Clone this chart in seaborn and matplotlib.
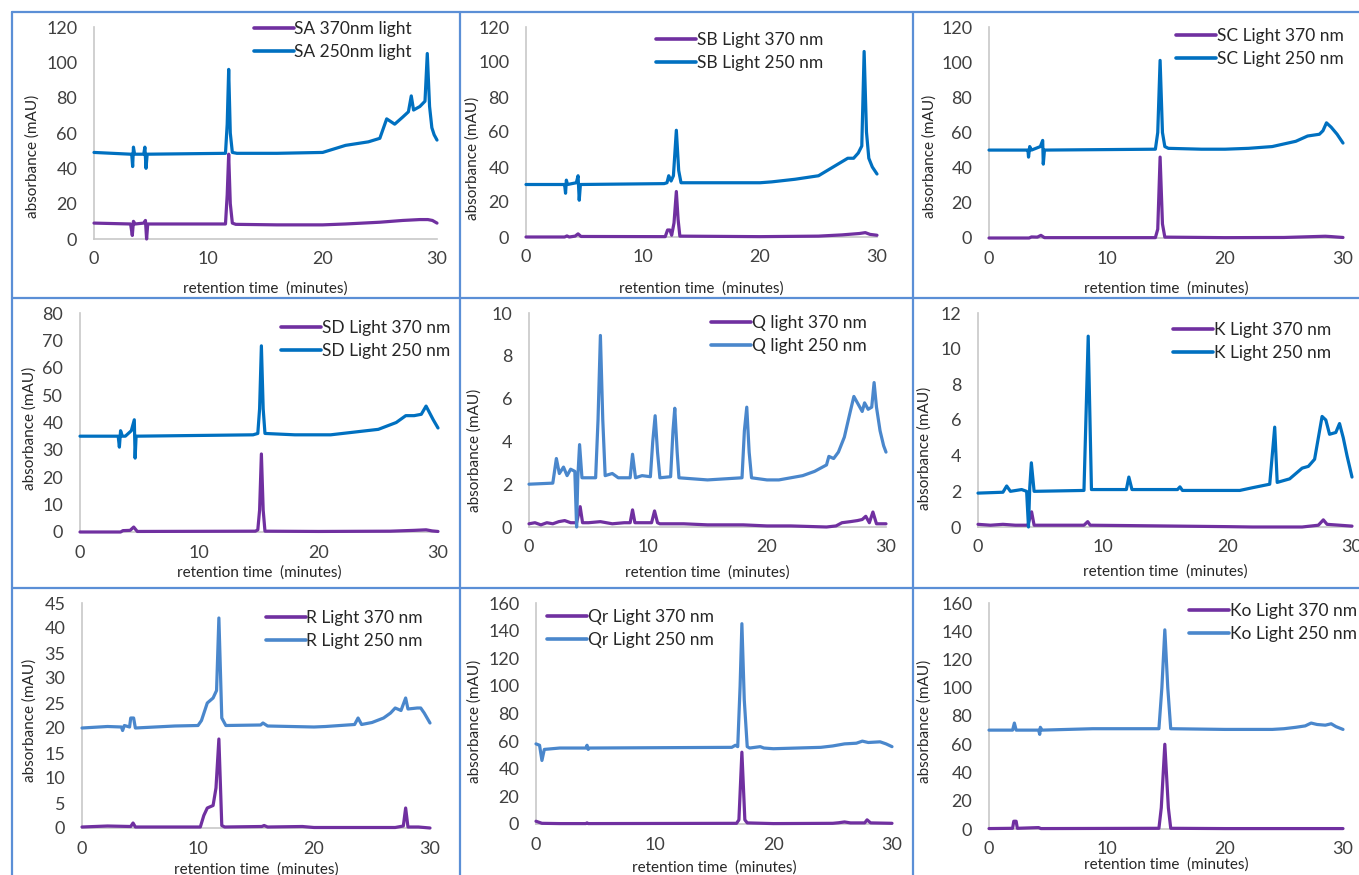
import matplotlib
matplotlib.use("Agg")
import matplotlib.pyplot as plt
from matplotlib.lines import Line2D
import pandas as pd
import seaborn as sns

# (retention time in minutes, absorbance in mAU)
SA_370 = [(0, 9), (3.2, 8.5), (3.35, 2), (3.45, 10), (3.6, 8.5), (4.35, 9), (4.5, 10.5), (4.6, 0), (4.7, 8.5),
          (11.5, 8.5), (11.65, 25), (11.78, 48), (11.92, 20), (12.1, 9), (12.4, 8.3), (16, 8), (20, 8),
          (22, 8.5), (25, 9.5), (27, 10.5), (28.5, 11), (29.2, 11), (29.6, 10.5), (30, 9)]
SA_250 = [(0, 49), (3.2, 48), (3.3, 48), (3.38, 41), (3.45, 52), (3.55, 48), (4.35, 48), (4.45, 52), (4.55, 40),
          (4.65, 48), (11.5, 48.5), (11.65, 65), (11.78, 96), (11.92, 60), (12.1, 49), (12.5, 48.5), (16, 48.5),
          (20, 49), (21, 51), (22, 53), (23, 54), (24, 55), (25, 57), (25.6, 68), (26.3, 65), (27, 69), (27.5, 72),
          (27.75, 81), (27.95, 73), (28.5, 75), (28.95, 78), (29.15, 105), (29.35, 75), (29.55, 63), (29.75, 59),
          (30, 56)]

SB_370 = [(0, 0), (3.3, 0), (3.5, 0.6), (3.7, 0), (4.2, 0.5), (4.45, 1.8), (4.7, 0.3), (11.9, 0.2), (12.1, 4),
          (12.3, 4), (12.45, 1), (12.65, 8), (12.85, 26), (13.0, 10), (13.15, 0.5), (20, 0.2), (25, 0.5),
          (27, 1.2), (28.5, 2), (29, 2.5), (29.4, 1.5), (30, 1)]
SB_250 = [(0, 30), (3.2, 30), (3.3, 30), (3.38, 25), (3.45, 32.5), (3.55, 30), (4.3, 31), (4.45, 35), (4.55, 21),
          (4.65, 30), (11.8, 30.5), (12.05, 31), (12.2, 35), (12.4, 32), (12.6, 35), (12.85, 61), (13.05, 38),
          (13.25, 31), (16, 31), (20, 31), (21, 31.5), (23, 33), (25, 35), (26, 39), (27, 43), (27.5, 45),
          (28, 45), (28.4, 48), (28.7, 52), (28.9, 106), (29.1, 60), (29.3, 45), (29.6, 40), (30, 36)]

SC_370 = [(0, 0), (3.4, 0), (3.6, 0.6), (4.1, 0.5), (4.4, 1.5), (4.7, 0.2), (14.1, 0.2), (14.3, 5), (14.5, 46),
          (14.7, 8), (14.9, 0.5), (20, 0.2), (25, 0.3), (28.5, 1), (29, 0.8), (30, 0.3)]
SC_250 = [(0, 50), (3.2, 50), (3.3, 50), (3.35, 46), (3.45, 52), (3.6, 50), (4.35, 52), (4.55, 55.5), (4.6, 42),
          (4.7, 50), (14.1, 50.5), (14.3, 60), (14.5, 101), (14.7, 60), (14.9, 52), (15.2, 51), (18, 50.5),
          (20, 50.5), (22, 51), (24, 52), (25, 53.5), (26, 55), (27, 58), (28, 59), (28.3, 61), (28.6, 65.5),
          (29, 63), (29.5, 59), (30, 54)]

SD_370 = [(0, 0), (3.4, 0), (3.6, 0.5), (4.2, 0.6), (4.5, 1.8), (4.8, 0.2), (14.7, 0.3), (14.9, 0.8),
          (15.05, 8), (15.2, 28.5), (15.35, 8), (15.5, 0.3), (20, 0.2), (26, 0.3), (28, 0.6), (29, 0.8),
          (29.5, 0.4), (30, 0.2)]
SD_250 = [(0, 35), (3.2, 35), (3.3, 31), (3.4, 37), (3.55, 35), (3.8, 35), (4.3, 37), (4.55, 41), (4.62, 27),
          (4.7, 35), (14.5, 35.5), (14.9, 36), (15.05, 45), (15.2, 68), (15.35, 45), (15.5, 36), (18, 35.5),
          (21, 35.5), (22, 36), (24, 37), (25, 37.5), (26.5, 40), (27.3, 42.5), (28, 42.5), (28.6, 43),
          (29, 46), (29.6, 41), (30, 38)]

Q_370 = [(0, 0.15), (0.5, 0.2), (1, 0.1), (1.5, 0.2), (2, 0.15), (2.5, 0.25), (3, 0.3), (3.5, 0.2), (4.0, 0.2),
         (4.3, 0.95), (4.5, 0.2), (5, 0.2), (6, 0.25), (7, 0.15), (8, 0.2), (8.5, 0.2), (8.7, 0.8), (8.9, 0.2),
         (9.5, 0.2), (10.3, 0.2), (10.55, 0.75), (10.8, 0.2), (11, 0.15), (13, 0.15), (15, 0.1), (18, 0.1),
         (20, 0.05), (22, 0.05), (25, 0.0), (25.8, 0.05), (26.3, 0.2), (27, 0.25), (27.6, 0.3), (28, 0.35),
         (28.3, 0.5), (28.6, 0.2), (28.9, 0.7), (29.2, 0.15), (30, 0.15)]
Q_250 = [(0, 2.0), (2.0, 2.05), (2.3, 3.2), (2.55, 2.5), (2.9, 2.8), (3.2, 2.4), (3.5, 2.7), (3.85, 2.6),
         (4.0, 0.0), (4.1, 2.3), (4.25, 3.85), (4.45, 2.3), (5.6, 2.3), (5.8, 5), (6.0, 8.95), (6.2, 5),
         (6.4, 2.4), (7.0, 2.5), (7.5, 2.3), (8.5, 2.3), (8.7, 3.4), (8.95, 2.3), (9.5, 2.4), (10.2, 2.35),
         (10.4, 4), (10.6, 5.2), (10.8, 3.5), (11.0, 2.3), (11.9, 2.35), (12.1, 4.5), (12.25, 5.55),
         (12.45, 3.5), (12.6, 2.3), (15, 2.2), (17.9, 2.3), (18.1, 4.5), (18.3, 5.6), (18.5, 3.5), (18.7, 2.3),
         (20, 2.2), (21, 2.2), (22, 2.3), (23, 2.4), (24, 2.6), (25, 2.9), (25.2, 3.3), (25.6, 3.2), (26, 3.5),
         (26.5, 4.2), (27, 5.4), (27.3, 6.1), (27.7, 5.7), (28.0, 5.4), (28.2, 5.8), (28.5, 5.5), (28.8, 5.6),
         (29.0, 6.75), (29.2, 5.6), (29.5, 4.5), (29.8, 3.8), (30, 3.5)]

K_370 = [(0, 0.15), (1, 0.1), (2, 0.15), (3, 0.1), (4.0, 0.1), (4.3, 0.85), (4.5, 0.1), (6, 0.1), (8.5, 0.1),
         (8.8, 0.3), (9.0, 0.1), (12, 0.08), (16, 0.05), (20, 0.02), (22, 0.0), (26, 0.0), (27.3, 0.1),
         (27.7, 0.4), (28, 0.15), (29, 0.1), (30, 0.05)]
K_250 = [(0, 1.9), (2.0, 1.95), (2.3, 2.3), (2.6, 2.0), (3.5, 2.1), (3.9, 2.0), (4.05, 0.0), (4.15, 2.2),
         (4.28, 3.6), (4.5, 2.0), (8.5, 2.05), (8.84, 10.7), (9.1, 2.1), (11.9, 2.1), (12.1, 2.8), (12.35, 2.1),
         (16, 2.1), (16.2, 2.25), (16.4, 2.05), (21, 2.05), (22, 2.2), (23.4, 2.4), (23.6, 4), (23.8, 5.6),
         (24.0, 2.5), (25, 2.7), (26, 3.3), (26.5, 3.4), (27, 3.8), (27.3, 5.0), (27.6, 6.2), (27.9, 6.0),
         (28.2, 5.2), (28.7, 5.3), (29.0, 5.8), (29.3, 5.0), (29.6, 4.0), (30, 2.8)]

R_370 = [(0, 0.2), (2.2, 0.4), (4.2, 0.3), (4.4, 1.0), (4.6, 0.2), (10.2, 0.2), (10.5, 2.5), (10.8, 4.0),
         (11.3, 4.5), (11.55, 8), (11.8, 17.8), (12.05, 0.5), (12.3, 0.2), (15.5, 0.3), (15.7, 0.5), (16, 0.2),
         (19, 0.3), (20, 0.1), (27, 0.1), (27.7, 0.4), (27.9, 4.0), (28.1, 0.2), (29, 0.2), (30, 0.0)]
R_250 = [(0, 20), (2.2, 20.3), (3.4, 20.2), (3.5, 19.5), (3.65, 20.5), (4.1, 20.2), (4.2, 22), (4.45, 22),
         (4.6, 20), (8, 20.4), (10, 20.5), (10.3, 21.5), (10.8, 25), (11.3, 26), (11.6, 27.5), (11.8, 42),
         (12.05, 22), (12.4, 20.5), (15.4, 20.6), (15.6, 21), (16, 20.4), (20, 20.2), (21, 20.3), (23.5, 20.7),
         (23.8, 22), (24.1, 20.7), (25, 21.1), (26, 22), (26.6, 23), (27, 24), (27.5, 23.5), (27.9, 26),
         (28.1, 23.8), (28.9, 24), (29.2, 24), (29.5, 23), (30, 21)]

Qr_370 = [(0, 2), (0.5, 0.5), (2, 0.3), (4.2, 0.3), (4.3, 0.8), (4.4, 0.3), (16.9, 0.5), (17.1, 3), (17.35, 52),
          (17.6, 3), (17.8, 0.8), (20, 0.3), (25, 0.5), (25.5, 0.9), (26, 1.5), (26.5, 0.8), (27.7, 0.8),
          (27.9, 3), (28.2, 0.8), (30, 0.5)]
Qr_250 = [(0, 58), (0.3, 57), (0.5, 46), (0.7, 54), (2, 55), (4.2, 55), (4.3, 57), (4.4, 54), (4.5, 55),
          (16.5, 55.5), (16.8, 57), (17.0, 56), (17.2, 100), (17.35, 145), (17.55, 90), (17.8, 56), (18, 55),
          (18.9, 56), (19.2, 55), (20, 54.5), (22, 55), (24, 55.5), (25, 56.5), (26, 58), (27, 58.5),
          (27.5, 60), (28, 59), (29, 59.5), (29.5, 58), (30, 56)]

Ko_370 = [(0, 0.3), (2.0, 0.5), (2.1, 5.5), (2.3, 5.5), (2.4, 0.5), (4.2, 1), (4.4, 0.3), (14.4, 0.5),
          (14.6, 15), (14.9, 60), (15.2, 15), (15.4, 0.5), (20, 0.3), (30, 0.3)]
Ko_250 = [(0, 70), (2.0, 70), (2.15, 75), (2.3, 70), (4.2, 70), (4.3, 67), (4.35, 72), (4.5, 70), (8.8, 71),
          (14.4, 71), (14.65, 100), (14.9, 141), (15.15, 100), (15.4, 71), (20, 70.5), (24, 70.5), (25, 71),
          (26, 72), (26.8, 73), (27.3, 75), (27.8, 74), (28.5, 73.5), (29, 74.5), (29.4, 72.5), (30, 70.5)]

LABELS = [
    ("SA 370nm light", "SA 250nm light"),
    ("SB Light 370 nm", "SB Light 250 nm"),
    ("SC Light 370 nm", "SC Light 250 nm"),
    ("SD Light 370 nm", "SD Light 250 nm"),
    ("Q light 370 nm", "Q light 250 nm"),
    ("K Light 370 nm", "K Light 250 nm"),
    ("R Light 370 nm", "R Light 250 nm"),
    ("Qr Light 370 nm", "Qr Light 250 nm"),
    ("Ko Light 370 nm", "Ko Light 250 nm"),
]
TRACES = [(SA_370, SA_250), (SB_370, SB_250), (SC_370, SC_250), (SD_370, SD_250), (Q_370, Q_250),
          (K_370, K_250), (R_370, R_250), (Qr_370, Qr_250), (Ko_370, Ko_250)]
Y_MAX = [120, 120, 120, 80, 10, 12, 45, 160, 160]
Y_STEP = [20, 20, 20, 10, 2, 2, 5, 20, 20]

PURPLE = "#7030a0"
BLUE = "#0070c0"
LIGHT_BLUE = "#4a87cc"
BLUE_250 = [BLUE, BLUE, BLUE, BLUE, LIGHT_BLUE, BLUE, LIGHT_BLUE, LIGHT_BLUE, LIGHT_BLUE]

# pixel layout: x of t=0, x of t=30, y of top tick, y of 0, xlabel offset, ylabel (dx, yc),
# legend (right x, top y)
LAYOUT = [
    (94, 437, 27, 239, 50, 61, 156, 412, 21),
    (526, 877, 27, 237, 52, 53, 158, 823, 32),
    (989, 1343, 27, 238, 51, 59, 156, 1344, 28),
    (80, 438, 313, 532, 41, 50, 428, 450, 320),
    (529, 886, 313, 527, 46, 54, 450, 867, 315),
    (978, 1352, 313, 527, 45, 53, 448, 1331, 322),
    (82, 430, 603, 828, 42, 52, 720, 423, 610),
    (536, 892, 603, 824, 44, 61, 721, 714, 609),
    (989, 1343, 603, 829, 36, 64, 721, 1357, 603),
]

W, H = 1359, 875

sns.set_theme(style="white")
plt.rcParams["font.family"] = ["Lato", "DejaVu Sans"]

fig = plt.figure(figsize=(W / 100, H / 100), dpi=100)
fig.patch.set_facecolor("white")

# panel frame lines
frame_color = "#5b8fd6"
for x in (12, 460, 913):
    fig.add_artist(Line2D([x / W, x / W], [0, 1 - 12 / H], color=frame_color, lw=1.6))
for y in (12, 298, 588):
    fig.add_artist(Line2D([12 / W, 1], [1 - y / H, 1 - y / H], color=frame_color, lw=1.6))

for i, (x0, x30, ytop, y0, xl_off, yl_dx, yl_y, lg_x, lg_y) in enumerate(LAYOUT):
    ax = fig.add_axes([x0 / W, 1 - y0 / H, (x30 - x0) / W, (y0 - ytop) / H])
    lab370, lab250 = LABELS[i]
    t370, a370 = zip(*TRACES[i][0])
    t250, a250 = zip(*TRACES[i][1])
    df = pd.concat([
        pd.DataFrame({"time": t370, "absorbance": a370, "series": lab370}),
        pd.DataFrame({"time": t250, "absorbance": a250, "series": lab250}),
    ])
    sns.lineplot(data=df, x="time", y="absorbance", hue="series", hue_order=[lab370, lab250],
                 palette=[PURPLE, BLUE_250[i]], sort=False, estimator=None, lw=2.3,
                 legend=False, ax=ax)
    for ln in ax.lines:
        ln.set_clip_on(False)
        ln.set_zorder(3)
        ln.set_solid_joinstyle("round")

    ax.set_xlim(0, 30)
    ax.set_ylim(0, Y_MAX[i])
    ax.set_xticks([0, 10, 20, 30])
    ax.set_yticks(range(0, Y_MAX[i] + 1, Y_STEP[i]))
    ax.tick_params(axis="both", length=0, labelsize=13, labelcolor="#404040")
    ax.tick_params(axis="x", pad=9)
    ax.tick_params(axis="y", pad=12)
    for side in ("top", "right"):
        ax.spines[side].set_visible(False)
    for side in ("left", "bottom"):
        ax.spines[side].set_color("#c8c8c8")
        ax.spines[side].set_linewidth(1.2)
        ax.spines[side].set_zorder(1)
    ax.set_facecolor("none")

    w_px = x30 - x0
    h_px = y0 - ytop
    ax.set_xlabel("retention time  (minutes)", fontsize=11, color="#262626")
    ax.xaxis.set_label_coords(0.5, -xl_off / h_px)
    ax.xaxis.label.set_va("center")
    ax.set_ylabel("absorbance (mAU)", fontsize=11, color="#262626")
    ax.yaxis.set_label_coords(-yl_dx / w_px, (y0 - yl_y) / h_px)
    ax.yaxis.label.set_va("center")

    leg = ax.legend(handles=ax.lines[:2], labels=[lab370, lab250], loc="upper right",
                    bbox_to_anchor=(lg_x / W, 1 - lg_y / H), bbox_transform=fig.transFigure,
                    frameon=False, fontsize=12.5, handlelength=2.3, handletextpad=0.05,
                    labelspacing=0.42, borderpad=0, borderaxespad=0)
    for txt in leg.get_texts():
        txt.set_color("#262626")
    for ln in leg.get_lines():
        ln.set_linewidth(2.6)

fig.savefig("out.png", dpi=100, facecolor="white")
